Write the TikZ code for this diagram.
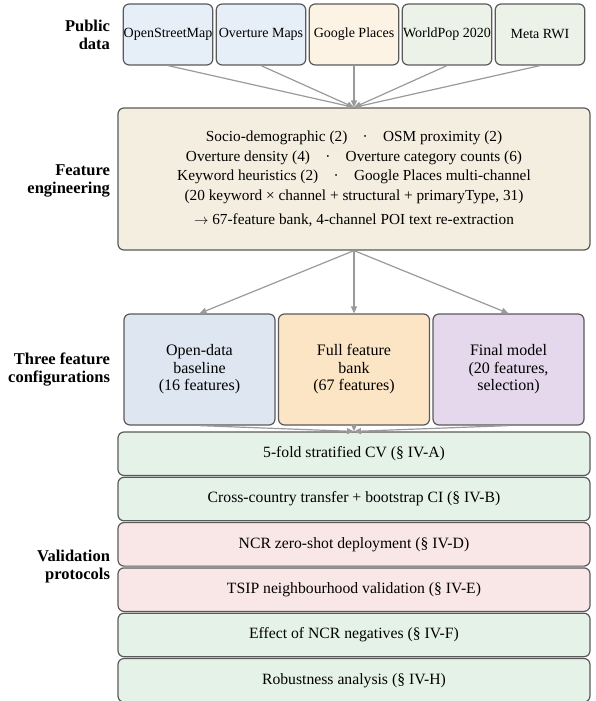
\documentclass[tikz,border=0pt]{standalone}
\usepackage{fontspec}
\setmainfont{Liberation Serif}
\usetikzlibrary{arrows.meta}

\definecolor{srcblue}{HTML}{E6EEF7}
\definecolor{srcorange}{HTML}{FCF3E4}
\definecolor{srcgreen}{HTML}{ECF2E8}
\definecolor{featbeige}{HTML}{F3EEE0}
\definecolor{cfgblue}{HTML}{DEE6F1}
\definecolor{cfgorange}{HTML}{FCE5C4}
\definecolor{cfgpurple}{HTML}{E5D7EC}
\definecolor{valgreen}{HTML}{E5F2E8}
\definecolor{valpink}{HTML}{F9E6E7}
\definecolor{edge}{HTML}{5A5A5A}
\definecolor{arrowgray}{HTML}{9A9A9A}

\begin{document}
\begin{tikzpicture}
[x=1pt, y=-1pt,
 box/.style={draw=edge, line width=1.2pt, rounded corners=6pt, inner sep=0pt,
   align=center, font=\fontsize{14}{18}\selectfont},
 src/.style={box, minimum width=89.5pt, minimum height=61pt},
 cfg/.style={box, minimum width=151pt, minimum height=111pt,
   font=\fontsize{16}{17.5}\selectfont},
 val/.style={box, minimum width=472pt, minimum height=43.5pt,
   font=\fontsize{15.7}{18}\selectfont},
 lane/.style={anchor=east, align=right, font=\fontsize{16.5}{18}\selectfont\bfseries},
 arr/.style={draw=arrowgray, line width=1.2pt, -{Triangle[length=7pt, width=6pt]}}]
\useasboundingbox (0,0) rectangle (595,701);

\node [lane] (lpub) at (113.5, 35) {Public\\data};
\node [lane] (lfeat) at (113.5, 181) {Feature\\engineering};
\node [lane] (lcfg) at (113.5, 370) {Three feature\\configurations};
\node [lane] (lval) at (113.5, 567) {Validation\\protocols};

\foreach \n/\t/\c [count=\i] in {osm/OpenStreetMap/srcblue, ovt/Overture Maps/srcblue,
    gpl/Google Places/srcorange, wpop/WorldPop 2020/srcgreen, rwi/Meta RWI/srcgreen}{
	\node [src, fill=\c] (\n) at ({168+93*(\i-1)}, 34.5) {\t};
}

\node [box, fill=featbeige, minimum width=472pt, minimum height=142pt,
  font=\fontsize{15.3}{19.5}\selectfont] (feat) at (354, 179)
  {Socio-demographic (2)\quad·\quad OSM proximity (2)\\
   Overture density (4)\quad·\quad Overture category counts (6)\\
   Keyword heuristics (2)\quad·\quad Google Places multi-channel\\
   (20 keyword × channel + structural + primaryType, 31)\\[5pt]
   $\rightarrow$ 67-feature bank, 4-channel POI text re-extraction};

\node [cfg, fill=cfgblue] (open) at (199.5, 369.5) {Open-data\\baseline\\(16 features)};
\node [cfg, fill=cfgorange] (full) at (354, 369.5) {Full feature\\bank\\(67 features)};
\node [cfg, fill=cfgpurple] (final) at (508.5, 369.5) {Final model\\(20 features,\\selection)};

\foreach \n/\t/\c [count=\i] in {cv/5-fold stratified CV (§ IV-A)/valgreen,
    xfer/Cross-country transfer + bootstrap CI (§ IV-B)/valgreen,
    ncr/NCR zero-shot deployment (§ IV-D)/valpink,
    tsip/TSIP neighbourhood validation (§ IV-E)/valpink,
    neg/Effect of NCR negatives (§ IV-F)/valgreen,
    rob/Robustness analysis (§ IV-H)/valgreen}{
	\node [val, fill=\c] (\n) at (354, {453.75+45.3*(\i-1)}) {\t};
}

\foreach \n in {osm, ovt, gpl, wpop, rwi}
	\draw [arr] (\n.south) -- (feat.north);
\foreach \n in {open, full, final}
	\draw [arr] (feat.south) -- (\n.north);
\foreach \n in {open, full, final}
	\draw [arr] (\n.south) -- (cv.north);
\end{tikzpicture}
\end{document}
